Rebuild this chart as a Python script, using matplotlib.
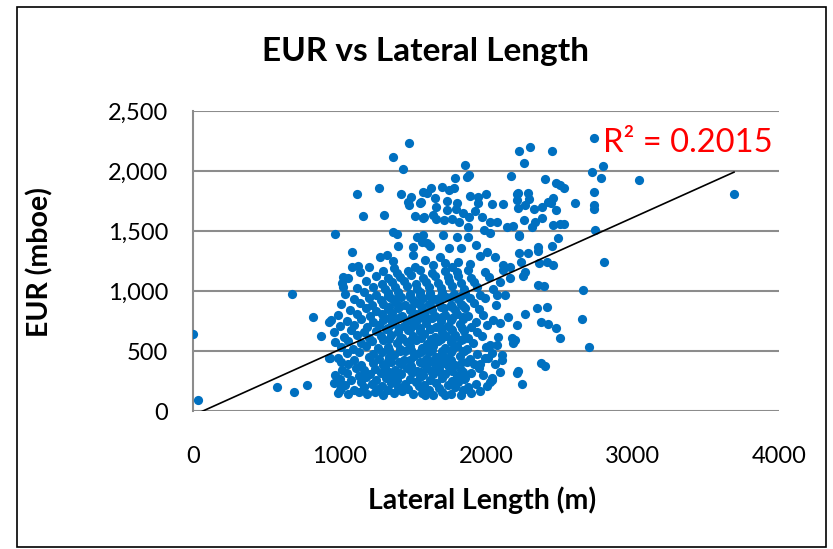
import numpy as np
import matplotlib
matplotlib.use('Agg')
import matplotlib.pyplot as plt
from matplotlib.ticker import FuncFormatter
from matplotlib.patches import Rectangle

# well data: lateral length (m) vs EUR (mboe)
# sparse wells outside the main cluster
outer_len = [0, 34, 573, 676, 689, 778, 819, 874, 928, 928, 942, 935, 1010, 990, 1003, 1024, 1024,
             1474, 1365, 1433, 1119, 1270, 1420, 1488, 1467, 1474, 1549, 1570, 1160, 1304, 1515, 1570,
             969, 1365, 1392, 1529, 1399, 1502, 1563, 1085, 1276, 1324, 1365, 1085, 1126, 1201, 1502,
             1515, 1372,
             2225, 1857, 1884, 1870, 2171, 1788, 1700, 1625, 1747, 1782, 1597, 1891, 2000, 1945, 2212,
             1652, 1734, 1802, 1945, 2041, 2116, 2212, 1556, 1659, 1734, 1795, 1843, 1925, 1577, 1638,
             1659, 1713, 1768, 1816, 1884, 1973, 2027, 2075, 2143, 2184, 2225, 1877, 1986, 2027, 1706,
             1802, 1877, 1570, 1597, 1618, 1747, 1829, 1932, 2007, 2061, 2116, 2164, 1686, 1959, 1584,
             1638, 1720, 1768, 1809, 1891,
             2737, 2300, 2451, 2259, 2799, 2724, 2785, 2403, 2478, 2505, 2532, 2737, 2218, 2287, 2294,
             2457, 2444, 2423, 2382, 2328, 2266, 2218, 2478, 2608, 2737, 2737, 2382, 2259, 2335, 2314,
             2457, 2505, 2532, 2225, 2491, 2744, 2451, 2355, 2355, 2287, 2225, 2239, 2416, 2457, 2805,
             2362, 3044, 3693,
             2253, 2266, 2355, 2396, 2662, 2348, 2416, 2266, 2212, 2655, 2375, 2423, 2478, 2505, 2703,
             2198, 2375, 2403, 2212, 2218, 2246,
             2130, 2150, 2096, 2177, 2184, 2109, 2109, 2096, 2041, 2027, 2075, 2014, 2027, 1959, 1857,
             1877, 1843, 1720, 1584, 1741, 2116, 2164, 2096, 2075]
outer_eur = [642, 92, 200, 975, 158, 217, 783, 625, 742, 442, 758, 442, 408, 242, 175, 1117, 1033,
             2233, 2117, 2017, 1808, 1858, 1808, 1783, 1742, 1717, 1733, 1825, 1625, 1633, 1625, 1608,
             1475, 1492, 1475, 1450, 1375, 1367, 1408, 1325, 1283, 1300, 1250, 1200, 1208, 1200, 1300,
             1200, 1192,
             2167, 2050, 1967, 1950, 1958, 1942, 1867, 1858, 1842, 1858, 1817, 1792, 1808, 1783, 1808,
             1775, 1750, 1733, 1733, 1725, 1725, 1758, 1742, 1700, 1675, 1683, 1650, 1667, 1617, 1633,
             1600, 1592, 1600, 1575, 1617, 1617, 1575, 1575, 1533, 1542, 1467, 1533, 1508, 1483, 1467,
             1450, 1450, 1467, 1400, 1375, 1358, 1358, 1383, 1325, 1283, 1217, 1200, 1283, 1292, 1258,
             1217, 1233, 1200, 1242, 1225,
             2275, 2200, 2167, 2067, 2042, 1992, 1942, 1933, 1900, 1883, 1858, 1825, 1817, 1817, 1767,
             1775, 1733, 1742, 1700, 1683, 1717, 1692, 1675, 1733, 1717, 1683, 1608, 1592, 1575, 1533,
             1550, 1558, 1558, 1458, 1442, 1508, 1375, 1367, 1333, 1317, 1317, 1242, 1242, 1217, 1242,
             1233, 1925, 1808,
             1125, 1158, 1050, 1042, 1008, 858, 867, 808, 717, 767, 742, 725, 692, 608, 533,
             592, 400, 375, 317, 333, 225,
             967, 783, 733, 608, 567, 467, 425, 325, 258, 242, 550, 442, 550, 392, 275,
             200, 175, 133, 133, 383, 1175, 1108, 1075, 967]

# main cluster, 1000-2100 m
core_len = [990, 1060, 1130, 1190, 1240, 1300, 1370, 1430, 1500, 1560, 1640, 1700, 1760, 1830, 1900,
            1010, 1100, 1170, 1260, 1330, 1400, 1470, 1540, 1610, 1680, 1790, 1880, 1960,
            960, 1040, 1150, 1220, 1290, 1350, 1450, 1520, 1580, 1660, 1740, 1810, 1930, 2010,
            1000, 1080, 1180, 1250, 1320, 1390, 1480, 1550, 1620, 1700, 1770, 1850, 2040,
            970, 1050, 1130, 1210, 1280, 1360, 1420, 1500, 1570, 1640, 1720, 1800, 1900, 1980,
            1020, 1110, 1170, 1240, 1310, 1380, 1460, 1530, 1600, 1680, 1750, 1830, 1950,
            1060, 1150, 1230, 1300, 1350, 1420, 1490, 1560, 1650, 1710, 1790, 1870, 1920, 2060,
            990, 1100, 1200, 1270, 1340, 1440, 1510, 1590, 1660, 1740, 1820, 1890, 1990,
            1050, 1130, 1230, 1290, 1370, 1450, 1540, 1610, 1700, 1760, 1850, 1940, 2040,
            1010, 1090, 1180, 1260, 1330, 1410, 1480, 1560, 1640, 1720, 1800, 1870, 2000,
            970, 1060, 1150, 1220, 1300, 1390, 1460, 1520, 1600, 1670, 1760, 1830, 1910,
            1030, 1120, 1200, 1280, 1350, 1430, 1500, 1580, 1650, 1730, 1790, 1880, 1970, 2080,
            960, 1080, 1170, 1250, 1320, 1400, 1470, 1550, 1620, 1700, 1770, 1850, 1940,
            1000, 1100, 1190, 1270, 1360, 1440, 1510, 1590, 1660, 1740, 1820, 1900, 2010,
            1050, 1150, 1230, 1300, 1380, 1460, 1530, 1600, 1690, 1760, 1840, 1930, 2050,
            990, 1120, 1210, 1290, 1360, 1430, 1520, 1580, 1650, 1720, 1800, 1880, 1980,
            1070, 1180, 1250, 1330, 1400, 1480, 1560, 1630, 1710, 1790, 1860, 1950,
            1010, 1140, 1220, 1300, 1380, 1450, 1530, 1610, 1680, 1760, 1830, 1920, 2070,
            1100, 1200, 1280, 1350, 1420, 1500, 1570, 1650, 1730, 1810, 1890, 1990,
            1040, 1170, 1250, 1330, 1400, 1480, 1550, 1620, 1700, 1780, 1860, 1960,
            1120, 1230, 1310, 1380, 1460, 1530, 1610, 1690, 1770, 1850, 1940, 2050,
            1020, 1180, 1290, 1360, 1440, 1520, 1590, 1670, 1750, 1830, 1920,
            1060, 1250, 1330, 1410, 1490, 1570, 1650, 1740, 1810, 1900, 2020,
            1140, 1300, 1390, 1470, 1550, 1630, 1720, 1800, 1880, 1990]
core_eur = [150, 138, 160, 142, 155, 133, 148, 165, 140, 152, 136, 158, 145, 132, 150,
            190, 178, 200, 185, 172, 196, 182, 205, 175, 190, 198, 183, 170,
            230, 218, 240, 225, 212, 236, 228, 245, 215, 232, 220, 238, 226, 210,
            270, 258, 280, 262, 275, 255, 268, 285, 260, 272, 250, 266, 278,
            300, 315, 292, 308, 320, 296, 310, 325, 298, 312, 305, 290, 318, 302,
            345, 360, 338, 352, 366, 342, 356, 335, 362, 348, 370, 340, 355,
            392, 380, 400, 386, 410, 395, 378, 404, 388, 398, 382, 406, 390, 395,
            440, 428, 452, 436, 446, 425, 458, 432, 448, 438, 455, 430, 445,
            482, 495, 476, 490, 470, 498, 480, 492, 475, 488, 500, 478, 485,
            530, 518, 542, 525, 535, 515, 545, 522, 538, 528, 540, 520, 532,
            572, 585, 565, 580, 590, 568, 578, 592, 562, 582, 575, 588, 570,
            618, 630, 610, 625, 635, 612, 628, 640, 615, 622, 632, 608, 626, 620,
            662, 675, 655, 670, 680, 658, 672, 665, 685, 660, 678, 668, 655,
            708, 720, 700, 715, 725, 705, 718, 730, 702, 712, 722, 698, 716,
            752, 765, 745, 760, 770, 748, 762, 775, 750, 758, 768, 742, 755,
            798, 810, 790, 805, 815, 792, 808, 820, 795, 802, 812, 788, 800,
            842, 855, 835, 850, 862, 838, 852, 845, 860, 840, 855, 848,
            888, 900, 880, 895, 905, 885, 898, 890, 908, 882, 895, 900, 885,
            932, 945, 925, 940, 950, 928, 942, 935, 948, 930, 944, 938,
            978, 990, 970, 985, 995, 972, 988, 980, 992, 975, 986, 970,
            1022, 1035, 1015, 1030, 1040, 1018, 1032, 1025, 1038, 1020, 1030, 1015,
            1068, 1080, 1060, 1075, 1085, 1062, 1078, 1070, 1082, 1065, 1075,
            1112, 1125, 1105, 1120, 1130, 1108, 1122, 1115, 1128, 1110, 1118,
            1158, 1170, 1150, 1165, 1175, 1152, 1168, 1160, 1172, 1155]

# densest part of the cluster, 1300-1850 m
dense_len = [1335, 1410, 1485, 1555, 1625, 1695, 1765, 1840,
             1330, 1405, 1480, 1550, 1620, 1690, 1760, 1835,
             1340, 1415, 1490, 1560, 1630, 1700, 1770, 1845,
             1335, 1410, 1485, 1555, 1625, 1695, 1765, 1840,
             1330, 1405, 1480, 1550, 1620, 1690, 1760, 1835,
             1340, 1415, 1490, 1560, 1630, 1700, 1770, 1845,
             1335, 1410, 1485, 1555, 1625, 1695, 1765, 1840,
             1330, 1405, 1480, 1550, 1620, 1690, 1760, 1835]
dense_eur = [328, 318, 332, 322, 336, 315, 330, 326,
             418, 412, 422, 408, 420, 415, 425, 410,
             508, 500, 512, 503, 506, 498, 510, 502,
             598, 602, 590, 605, 596, 600, 592, 604,
             688, 692, 682, 695, 686, 690, 684, 694,
             778, 782, 772, 785, 776, 780, 774, 786,
             868, 872, 862, 875, 866, 870, 864, 876,
             958, 962, 952, 965, 956, 960, 954, 966]

# linear trendline (Excel fit)
trend_slope = 0.549
trend_intercept = -37.0
r_squared = 0.2015

lateral = np.array(outer_len + core_len + dense_len, dtype=float)
eur = np.array(outer_eur + core_eur + dense_eur, dtype=float)

plt.rcParams['font.family'] = ['Lato', 'DejaVu Sans']

fig = plt.figure(figsize=(8.33, 5.49), dpi=100)
ax = fig.add_axes([193 / 833, 1 - 411 / 549, 586 / 833, 300 / 549])

ax.set_xlim(0, 4000)
ax.set_ylim(0, 2500)
ax.set_xticks([0, 1000, 2000, 3000, 4000])
ax.set_yticks([0, 500, 1000, 1500, 2000, 2500])
ax.yaxis.set_major_formatter(FuncFormatter(lambda v, p: f'{int(v):,}'))
ax.grid(axis='y', color='#8c8c8c', linewidth=1.5)
ax.set_axisbelow(True)
for s in ['top', 'right', 'bottom']:
    ax.spines[s].set_visible(False)
ax.spines['left'].set_color('#8c8c8c')
ax.spines['left'].set_linewidth(1.5)
ax.tick_params(length=0, labelsize=17, colors='black')
ax.tick_params(axis='x', pad=25)
ax.tick_params(axis='y', pad=18)

ax.scatter(lateral, eur, s=44, color='#0070C0', linewidths=0, zorder=3)

xs = np.array([lateral.min(), lateral.max()])
ax.plot(xs, trend_slope * xs + trend_intercept, color='black', linewidth=1.2, zorder=4)

ax.text(2800, 2230, f'R² = {r_squared:.4f}', color='red', fontsize=23.5, ha='left', va='center')

fig.text(482 / 833, 1 - 500 / 549, 'Lateral Length (m)', fontsize=20.5, fontweight='bold',
         ha='center', va='center')
fig.text(40 / 833, 1 - 262 / 549, 'EUR (mboe)', fontsize=20.5, fontweight='bold',
         ha='center', va='center', rotation=90)
fig.text(425 / 833, 1 - 52 / 549, 'EUR vs Lateral Length', fontsize=24, fontweight='bold',
         ha='center', va='center')

fig.patches.append(Rectangle((17 / 833, 1 - 547 / 549), 809 / 833, 540 / 549,
                             transform=fig.transFigure, fill=False, edgecolor='black',
                             linewidth=1.2))

fig.savefig('out.png', dpi=100)
